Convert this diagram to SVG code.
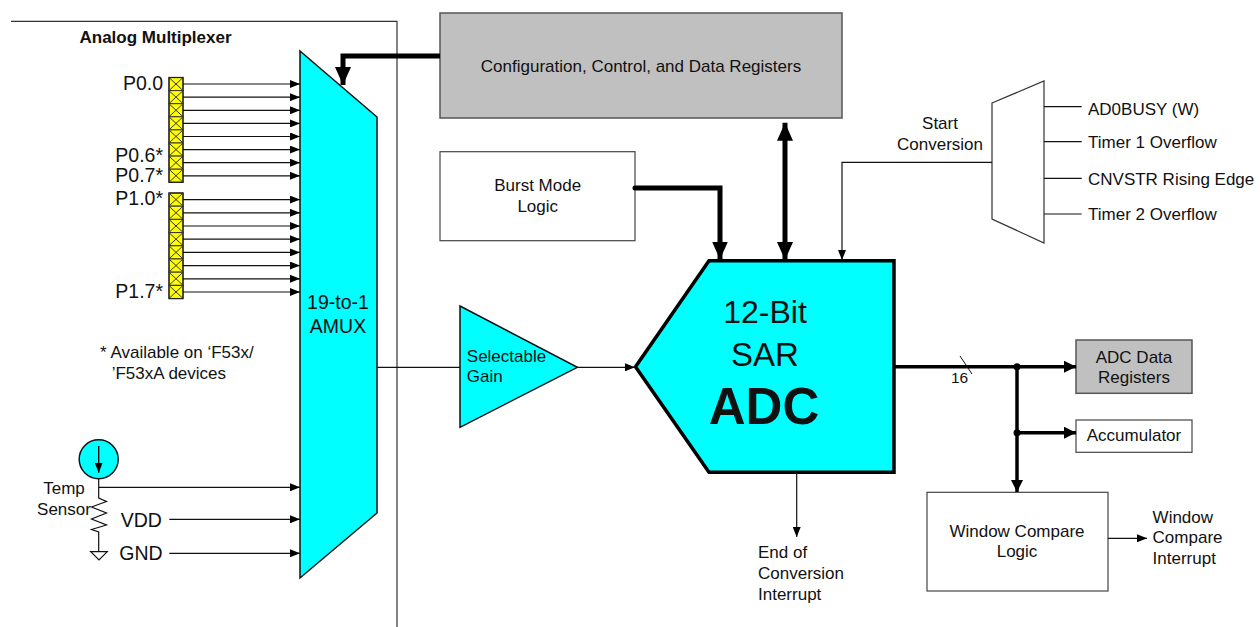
<svg xmlns="http://www.w3.org/2000/svg" width="1260" height="627" viewBox="0 0 1260 627">
<style>
text{font-family:"Liberation Sans",Arial,sans-serif;fill:#111;}
.t17{font-size:17px;}
.t19{font-size:19.5px;}
.mid{text-anchor:middle;}
.end{text-anchor:end;}
.thin{stroke:#111;stroke-width:1.2;fill:none;}
.thick{stroke:#000;stroke-width:5;fill:none;}
.bus{stroke:#000;stroke-width:3.5;fill:none;}
.box{fill:#fff;stroke:#444;stroke-width:1.2;}
.gray{fill:#c0c0c0;stroke:#555;stroke-width:1.5;}
.cyan{fill:#00ffff;stroke:#111;stroke-width:1.5;}
.pin{marker-end:url(#ms);}
</style>
<defs>
<marker id="ms" markerUnits="userSpaceOnUse" markerWidth="10" markerHeight="8" viewBox="0 0 10 8" refX="10" refY="4" orient="auto"><path d="M0,0 L10,4 L0,8 z" fill="#000"/></marker>
<marker id="mm" markerUnits="userSpaceOnUse" markerWidth="12" markerHeight="12" viewBox="0 0 12 12" refX="12" refY="6" orient="auto"><path d="M0,0 L12,6 L0,12 z" fill="#000"/></marker>
<marker id="ml" markerUnits="userSpaceOnUse" markerWidth="18" markerHeight="16" viewBox="0 0 18 16" refX="18" refY="8" orient="auto-start-reverse"><path d="M0,0 L18,8 L0,16 z" fill="#000"/></marker>
<g id="cell"><rect x="0" y="0" width="14" height="13.1" fill="#ffff00" stroke="#333" stroke-width="1"/><path d="M1,1 L13,12.1 M13,1 L1,12.1" stroke="#333" stroke-width="1" fill="none"/></g>
</defs>

<g id="amux-frame">
<path d="M11,21.3 H397 V627" fill="none" stroke="#333" stroke-width="1.2"/>
<text x="79.5" y="43.3" class="t17" font-weight="bold">Analog Multiplexer</text>
</g>

<g id="pins">
<use href="#cell" x="169" y="77.5"/><use href="#cell" x="169" y="90.6"/><use href="#cell" x="169" y="103.7"/><use href="#cell" x="169" y="116.8"/>
<use href="#cell" x="169" y="129.9"/><use href="#cell" x="169" y="143"/><use href="#cell" x="169" y="156.1"/><use href="#cell" x="169" y="169.2"/>
<use href="#cell" x="169" y="193"/><use href="#cell" x="169" y="206.2"/><use href="#cell" x="169" y="219.4"/><use href="#cell" x="169" y="232.6"/>
<use href="#cell" x="169" y="245.8"/><use href="#cell" x="169" y="259"/><use href="#cell" x="169" y="272.2"/><use href="#cell" x="169" y="285.4"/>
<rect x="169" y="77.5" width="14" height="104.8" fill="none" stroke="#222" stroke-width="1.3"/>
<rect x="169" y="193" width="14" height="105.6" fill="none" stroke="#222" stroke-width="1.3"/>
<text x="163" y="90" class="t19 end">P0.0</text>
<text x="163" y="161.7" class="t19 end">P0.6*</text>
<text x="163" y="182" class="t19 end">P0.7*</text>
<text x="163" y="205" class="t19 end">P1.0*</text>
<text x="163" y="298" class="t19 end">P1.7*</text>
<text x="100" y="358.3" class="t17">* Available on ‘F53x/</text>
<text x="111.7" y="379.3" class="t17">’F53xA devices</text>
</g>

<g id="temp-sensor">
<circle cx="98.7" cy="459.3" r="19.5" class="cyan"/>
<line x1="98.7" y1="446" x2="98.7" y2="472.7" stroke="#000" stroke-width="1.3" marker-end="url(#ms)"/>
<path d="M98.7,479 V498 L106.5,501.5 L91.5,507 L106.5,513 L91.5,519 L106.5,525 L91.5,529.5 L98.7,532 V551.7" class="thin"/>
<path d="M90.7,551.7 H107.3 L99,560 Z" fill="#fff" stroke="#111" stroke-width="1.2"/>
<text x="64" y="494" class="t17 mid">Temp</text>
<text x="64" y="515" class="t17 mid">Sensor</text>
<text x="120.7" y="526.7" class="t19" font-size="20px">VDD</text>
<text x="119.3" y="560" class="t19" font-size="20px">GND</text>
</g>

<g id="amux">
<path d="M300,51 L377,117 L377,513 L300,578 Z" class="cyan"/>
<text x="338" y="309.3" class="t19 mid">19-to-1</text>
<text x="338" y="333.3" class="t19 mid">AMUX</text>
</g>

<g id="config-regs">
<rect x="440" y="13" width="402" height="105" class="gray"/>
<text x="641" y="71.7" class="t17 mid">Configuration, Control, and Data Registers</text>
</g>

<g id="burst-mode">
<rect x="440" y="151.7" width="195" height="89" class="box"/>
<text x="537.7" y="190.7" class="t17 mid">Burst Mode</text>
<text x="537.7" y="211.7" class="t17 mid">Logic</text>
</g>

<g id="start-mux">
<path d="M992,103 L1044,81 L1044,243 L992,219 Z" fill="#fff" stroke="#333" stroke-width="1.2"/>
<text x="940" y="129.3" class="t17 mid">Start</text>
<text x="940" y="150" class="t17 mid">Conversion</text>
<text x="1088" y="114.5" class="t17">AD0BUSY (W)</text>
<text x="1088" y="148" class="t17">Timer 1 Overflow</text>
<text x="1088" y="184.5" class="t17">CNVSTR Rising Edge</text>
<text x="1088" y="220.3" class="t17">Timer 2 Overflow</text>
</g>

<g id="gain">
<path d="M460,306 L577.4,367.3 L460,427.3 Z" class="cyan"/>
<text x="466.8" y="361.7" class="t17">Selectable</text>
<text x="466.8" y="381.7" class="t17">Gain</text>
</g>

<g id="adc">
<path d="M709,260.7 H894 V472.3 H709 L635.5,366.7 Z" fill="#00ffff" stroke="#000" stroke-width="3.5" stroke-linejoin="miter"/>
<text x="765" y="322.7" class="mid" font-size="32px">12-Bit</text>
<text x="765" y="366" class="mid" font-size="33px">SAR</text>
<text x="764" y="424" class="mid" font-size="51px" font-weight="bold">ADC</text>
</g>

<g id="adc-data-regs">
<rect x="1076" y="340" width="116" height="53.3" class="gray"/>
<text x="1134" y="362.7" class="t17 mid">ADC Data</text>
<text x="1134" y="382.7" class="t17 mid">Registers</text>
</g>

<g id="accumulator">
<rect x="1076" y="420" width="116" height="32.3" class="box"/>
<text x="1134" y="440.7" class="t17 mid">Accumulator</text>
</g>

<g id="window-compare">
<rect x="927" y="492.3" width="181" height="98.7" class="box"/>
<text x="1017" y="536.7" class="t17 mid">Window Compare</text>
<text x="1017" y="557.3" class="t17 mid">Logic</text>
</g>

<g id="labels">
<text x="1152.6" y="522.7" class="t17">Window</text>
<text x="1152.6" y="543.3" class="t17">Compare</text>
<text x="1152.6" y="564" class="t17">Interrupt</text>
<text x="758" y="558.3" class="t17">End of</text>
<text x="758" y="579.3" class="t17">Conversion</text>
<text x="758" y="600" class="t17">Interrupt</text>
<text x="959.5" y="383.3" class="mid" font-size="15.5px">16</text>
</g>

<g id="connectors">
<line x1="183" y1="84" x2="300" y2="84" class="thin pin"/>
<line x1="183" y1="97.2" x2="300" y2="97.2" class="thin pin"/>
<line x1="183" y1="110.3" x2="300" y2="110.3" class="thin pin"/>
<line x1="183" y1="123.4" x2="300" y2="123.4" class="thin pin"/>
<line x1="183" y1="136.5" x2="300" y2="136.5" class="thin pin"/>
<line x1="183" y1="149.6" x2="300" y2="149.6" class="thin pin"/>
<line x1="183" y1="162.7" x2="300" y2="162.7" class="thin pin"/>
<line x1="183" y1="175.8" x2="300" y2="175.8" class="thin pin"/>
<line x1="183" y1="199.6" x2="300" y2="199.6" class="thin pin"/>
<line x1="183" y1="212.8" x2="300" y2="212.8" class="thin pin"/>
<line x1="183" y1="226" x2="300" y2="226" class="thin pin"/>
<line x1="183" y1="239.2" x2="300" y2="239.2" class="thin pin"/>
<line x1="183" y1="252.4" x2="300" y2="252.4" class="thin pin"/>
<line x1="183" y1="265.6" x2="300" y2="265.6" class="thin pin"/>
<line x1="183" y1="278.8" x2="300" y2="278.8" class="thin pin"/>
<line x1="183" y1="292" x2="300" y2="292" class="thin pin"/>
<line x1="98.7" y1="487.3" x2="300" y2="487.3" class="thin pin"/>
<line x1="169.3" y1="519.3" x2="300" y2="519.3" class="thin pin"/>
<line x1="169.3" y1="553.3" x2="300" y2="553.3" class="thin pin"/>
<path d="M440,56 H343 V85" class="thick" marker-end="url(#ml)"/>
<path d="M785,122.7 V260" class="thick" marker-start="url(#ml)" marker-end="url(#ml)"/>
<path d="M635,188 H720 V259.5" class="thick" stroke-linecap="round" marker-end="url(#ml)"/>
<path d="M992,162.3 H842 V260" class="thin" marker-end="url(#ms)"/>
<line x1="1044" y1="106.7" x2="1081.7" y2="106.7" class="thin"/>
<line x1="1044" y1="141.7" x2="1081.7" y2="141.7" class="thin"/>
<line x1="1044" y1="178.3" x2="1081.7" y2="178.3" class="thin"/>
<line x1="1044" y1="214" x2="1081.7" y2="214" class="thin"/>
<line x1="377" y1="367.3" x2="460" y2="367.3" class="thin"/>
<line x1="577.4" y1="367.3" x2="635" y2="367.3" class="thin" marker-end="url(#ms)"/>
<line x1="894" y1="366.7" x2="1076" y2="366.7" class="bus" marker-end="url(#mm)"/>
<line x1="960" y1="356" x2="972" y2="374" stroke="#111" stroke-width="1"/>
<line x1="1017" y1="366.7" x2="1017" y2="492" class="bus" marker-end="url(#mm)"/>
<line x1="1017" y1="432.7" x2="1076" y2="432.7" class="bus" marker-end="url(#mm)"/>
<circle cx="1017" cy="366.7" r="3.5" fill="#000"/>
<circle cx="1017" cy="432.7" r="3.5" fill="#000"/>
<line x1="796.7" y1="472.3" x2="796.7" y2="537" class="thin" stroke-width="1.5" marker-end="url(#ms)"/>
<line x1="1108" y1="538.3" x2="1147" y2="538.3" class="thin" marker-end="url(#ms)"/>
</g>
</svg>
